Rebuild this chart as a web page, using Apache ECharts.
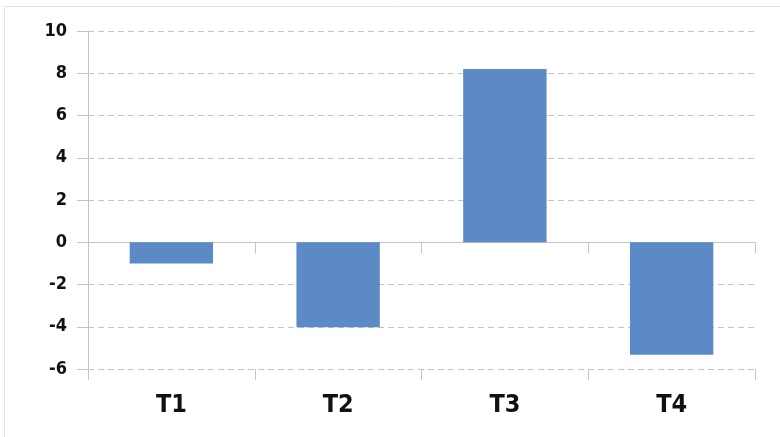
<!DOCTYPE html>
<html>
<head>
<meta charset="utf-8">
<script src="https://cdn.jsdelivr.net/npm/echarts@6/dist/echarts.min.js"></script>
<style>
  html, body { margin: 0; padding: 0; background: #fff; }
  #chart { width: 780px; height: 437px; }
</style>
</head>
<body>
<div id="chart"></div>
<script>
  var categories = ['T1', 'T2', 'T3', 'T4'];
  var values = [-1.0, -4.02, 8.2, -5.32];
  var yTicks = { min: -6, max: 10, interval: 2 };

  var labelFont = "'Liberation Sans Narrow', 'DejaVu Sans Condensed', sans-serif";
  var myChart = echarts.init(document.getElementById('chart'));

  var option = {
    animation: false,
    backgroundColor: '#fff',
    graphic: [{
      type: 'rect',
      shape: { x: 4.5, y: 6.5, width: 800, height: 500 },
      style: { fill: 'none', stroke: '#e3e3e3', lineWidth: 1 },
      silent: true
    }],
    grid: { left: 88, right: 25, top: 31, bottom: 68 },
    xAxis: [
      {
        // labels and ticks along the bottom
        type: 'category',
        data: categories,
        position: 'bottom',
        axisLine: { show: false, onZero: false },
        axisTick: { show: true, length: 11, lineStyle: { color: '#c4c4c4' } },
        axisLabel: {
          margin: 24,
          fontFamily: labelFont,
          fontWeight: 'bold',
          fontSize: 25,
          color: '#111'
        }
      },
      {
        // axis line through zero
        type: 'category',
        data: categories,
        position: 'bottom',
        axisLine: { show: true, onZero: true, lineStyle: { color: '#c4c4c4' } },
        axisTick: { show: true, length: 11, lineStyle: { color: '#c4c4c4' } },
        axisLabel: { show: false }
      }
    ],
    yAxis: {
      type: 'value',
      min: yTicks.min,
      max: yTicks.max,
      interval: yTicks.interval,
      axisLine: { show: true, lineStyle: { color: '#c4c4c4' } },
      axisTick: { show: true, length: 11, lineStyle: { color: '#c4c4c4' } },
      axisLabel: {
        margin: 21,
        fontFamily: labelFont,
        fontWeight: 'bold',
        fontSize: 18,
        color: '#111'
      },
      splitLine: {
        show: true,
        lineStyle: { color: '#c4c4c4', type: [6, 4], width: 1 }
      }
    },
    series: [{
      type: 'bar',
      xAxisIndex: 0,
      data: values,
      barWidth: '50%',
      itemStyle: { color: '#5b8ac7' }
    }]
  };

  myChart.setOption(option);
</script>
</body>
</html>
